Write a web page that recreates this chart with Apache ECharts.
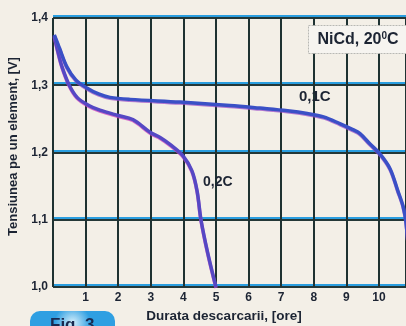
<!DOCTYPE html>
<html>
<head>
<meta charset="utf-8">
<script src="https://cdn.jsdelivr.net/npm/echarts@6/dist/echarts.min.js"></script>
<style>
  html, body { margin: 0; padding: 0; background: #f3efe7; }
  #chart { width: 406px; height: 326px; }
</style>
</head>
<body>
<div id="chart"></div>
<script>
// Discharge curves of a NiCd cell at 20 °C
const yTicks = [1.0, 1.1, 1.2, 1.3, 1.4];
const xTicks = [1, 2, 3, 4, 5, 6, 7, 8, 9, 10];

// 0,1C discharge: time [h] and cell voltage [V]
const hours01 = [0.04, 0.2, 0.43, 0.7, 1.04, 1.4, 1.75, 2.36, 3.9, 5.43, 6.35, 7.2, 7.8, 8.3, 8.8, 9.2, 9.42, 9.72, 10.03, 10.34, 10.58, 10.74, 10.83, 11.0];
const volts01 = [1.375, 1.355, 1.327, 1.308, 1.296, 1.287, 1.282, 1.279, 1.275, 1.27, 1.266, 1.262, 1.258, 1.253, 1.243, 1.234, 1.228, 1.213, 1.198, 1.176, 1.143, 1.12, 1.096, 1.0];

// 0,2C discharge
const hours02 = [0.04, 0.15, 0.28, 0.5, 0.74, 1.1, 1.44, 2.0, 2.45, 2.98, 3.3, 3.59, 3.99, 4.26, 4.42, 4.54, 4.75, 5.0];
const volts02 = [1.373, 1.35, 1.327, 1.3, 1.282, 1.27, 1.263, 1.255, 1.249, 1.23, 1.222, 1.212, 1.195, 1.173, 1.143, 1.1, 1.05, 1.0];

const pairs = (xs, ys) => xs.map((x, i) => [x, ys[i]]);
const ink = '#1c2433';
const font = 'Liberation Sans, Arial, sans-serif';

const chart = echarts.init(document.getElementById('chart'), null, { renderer: 'canvas' });
chart.setOption({
  backgroundColor: '#f3efe7',
  animation: false,
  grid: { left: 53, top: 18, right: 0, bottom: 39, containLabel: false, outerBoundsMode: 'none' },
  xAxis: {
    type: 'value', min: 0, max: 10.83, interval: 1,
    axisLine: { show: false }, axisTick: { show: false },
    axisLabel: {
      margin: 5, color: ink, fontWeight: 'bold', fontSize: 12, fontFamily: font,
      formatter: v => (xTicks.indexOf(Math.round(v * 100) / 100) >= 0 ? String(v) : '')
    },
    splitLine: { show: true, lineStyle: { color: '#1e3232', width: 2 } },
    name: 'Durata descarcarii, [ore]', nameLocation: 'middle', nameGap: 20,
    nameTextStyle: { color: ink, fontWeight: 'bold', fontSize: 13.5, fontFamily: font, padding: [0, 11, 0, 0] }
  },
  yAxis: {
    type: 'value', min: 1.0, max: 1.4, interval: 0.1,
    axisLine: { show: false }, axisTick: { show: false },
    axisLabel: {
      margin: 5, color: ink, fontWeight: 'bold', fontSize: 12, fontFamily: font,
      formatter: v => {
        const t = yTicks.find(k => Math.abs(k - v) < 1e-6);
        return t === undefined ? '' : t.toFixed(1).replace('.', ',');
      }
    },
    splitLine: {
      show: true,
      lineStyle: { color: '#243838', width: 2, shadowColor: '#2a9ee0', shadowOffsetY: -2, shadowBlur: 0 }
    },
    name: 'Tensiunea pe un element, [V]', nameLocation: 'middle', nameGap: 29, nameRotate: 90,
    nameTextStyle: { color: ink, fontWeight: 'bold', fontSize: 13, fontFamily: font, padding: [0, 0, 0, 12] }
  },
  series: [
    {
      name: '0,1C', type: 'line', data: pairs(hours01, volts01),
      showSymbol: false, smooth: 0.35, z: 5,
      lineStyle: { color: '#3a50c6', width: 3.5, shadowColor: 'rgba(150,70,200,0.7)', shadowOffsetY: 1, shadowBlur: 0 }
    },
    {
      name: '0,2C', type: 'line', data: pairs(hours02, volts02),
      showSymbol: false, smooth: 0.35, z: 4,
      lineStyle: { color: '#5548c4', width: 3.5, shadowColor: 'rgba(200,60,190,0.75)', shadowOffsetY: 1, shadowBlur: 0 }
    }
  ],
  graphic: {
    elements: [
      {
        type: 'group', left: 308, top: 25, z: 100,
        children: [
          { type: 'rect', z: 100, shape: { x: 0, y: 0, width: 110, height: 28 },
            style: { fill: '#f6f4f0', stroke: '#b8b8b4', lineWidth: 1, lineDash: [2, 1] } },
          { type: 'text', z: 101, x: 9, y: 14,
            style: {
              text: 'NiCd, 20{s|0}C', fill: ink, font: 'bold 16px ' + font, verticalAlign: 'middle',
              rich: { s: { fontSize: 10, fontWeight: 'bold', fontFamily: font, verticalAlign: 'top', padding: [0, 0, 6, 0] } }
            } }
        ]
      },
      { type: 'text', left: 299, top: 89, z: 100,
        style: { text: '0,1C', fill: ink, font: 'bold 15px ' + font } },
      { type: 'text', left: 203, top: 175, z: 100,
        style: { text: '0,2C', fill: ink, font: 'bold 14px ' + font } },
      {
        type: 'group', left: 30, top: 311, z: 100,
        children: [
          { type: 'rect', z: 100, shape: { x: 0, y: 0, width: 85, height: 30, r: 10 },
            style: { fill: new echarts.graphic.RadialGradient(0.5, 0.4, 0.6, [
              { offset: 0, color: '#d8f0fb' }, { offset: 1, color: '#2f9fe2' }]) } },
          { type: 'text', z: 101, x: 20, y: 6,
            style: { text: 'Fig. 3', fill: '#1a2a50', font: 'bold 17px ' + font } }
        ]
      }
    ]
  }
});
</script>
</body>
</html>
